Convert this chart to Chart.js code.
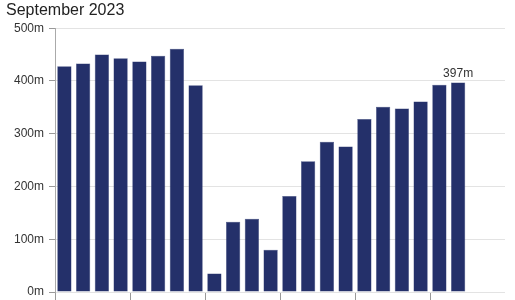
<!DOCTYPE html>
<html>
<head>
<meta charset="utf-8">
<script src="https://cdn.jsdelivr.net/npm/chart.js@4.4.0/dist/chart.umd.min.js"></script>
<style>
  html, body { margin: 0; padding: 0; background: #fff; }
  #wrap { width: 515px; height: 300px; }
</style>
</head>
<body>
<div id="wrap"><canvas id="myChart"></canvas></div>
<script>
// quarters (last two not published yet)
const quarters = ['Q1 2018', 'Q2 2018', 'Q3 2018', 'Q4 2018',
                  'Q1 2019', 'Q2 2019', 'Q3 2019', 'Q4 2019',
                  'Q1 2020', 'Q2 2020', 'Q3 2020', 'Q4 2020',
                  'Q1 2021', 'Q2 2021', 'Q3 2021', 'Q4 2021',
                  'Q1 2022', 'Q2 2022', 'Q3 2022', 'Q4 2022',
                  'Q1 2023', 'Q2 2023', 'Q3 2023', 'Q4 2023'];
// values in millions
const values = [428, 433, 450, 443, 437, 448, 461, 392,
                35, 133, 139, 80, 182, 248, 285, 276,
                328, 351, 348, 361, 393, 397, null, null];
const yTicks = [0, 100, 200, 300, 400, 500];
const chartTitle = 'September 2023';

// Label ueber dem letzten Balken
const lastLabel = {
    id: 'lastLabel',
    afterDatasetsDraw(chart) {
        const meta = chart.getDatasetMeta(0);
        let idx = -1;
        values.forEach((v, i) => { if (v !== null) idx = i; });
        const bar = meta.data[idx];
        const c = chart.ctx;
        c.save();
        c.font = '12px "Liberation Sans", Arial, sans-serif';
        c.fillStyle = '#333';
        c.textAlign = 'center';
        c.textBaseline = 'bottom';
        c.fillText(values[idx] + 'm', bar.x, bar.y - 3);
        c.restore();
    }
};

const ctx = document.getElementById('myChart').getContext('2d');

let chart = new Chart(ctx, {
    type: 'bar',
    data: {
        labels: quarters,
        datasets: [{
            data: values,
            backgroundColor: '#24306a',
            borderColor: '#38447a',
            borderWidth: 0.5,
            barPercentage: 0.76,
            categoryPercentage: 1
        }]
    },
    options: {
        responsive: true,
        maintainAspectRatio: false,
        animation: false,
        layout: { padding: { left: 6, right: 10, top: 0, bottom: 0 } },
        plugins: {
            legend: { display: false },
            tooltip: { enabled: false },
            title: {
                display: true,
                text: chartTitle,
                align: 'start',
                color: '#222',
                font: { family: '"Liberation Sans", Arial, sans-serif', size: 16, weight: 'normal' },
                padding: { top: 1, bottom: 8 }
            }
        },
        scales: {
            x: {
                afterFit: (scale) => { scale.height = 8; },
                ticks: { display: false },
                grid: {
                    display: true,
                    offset: true,
                    drawOnChartArea: false,
                    drawTicks: true,
                    tickLength: 8,
                    tickColor: (c) => (c.index % 4 === 0 && c.index < 24) ? '#999' : 'rgba(0,0,0,0)'
                },
                border: { display: false }
            },
            y: {
                min: 0,
                max: 500,
                afterBuildTicks: (scale) => { scale.ticks = yTicks.map(v => ({ value: v })); },
                afterFit: (scale) => {
                    scale.width = 49;
                    scale.paddingTop = 0;
                    scale.paddingBottom = 0;
                },
                ticks: {
                    callback: (v) => v + 'm',
                    color: '#333',
                    padding: 5,
                    font: { family: '"Liberation Sans", Arial, sans-serif', size: 12 }
                },
                grid: {
                    color: '#e3e3e3',
                    tickColor: '#999',
                    tickLength: 6
                },
                border: { color: '#aaa', width: 1 }
            }
        }
    },
    plugins: [lastLabel]
});
</script>
</body>
</html>
